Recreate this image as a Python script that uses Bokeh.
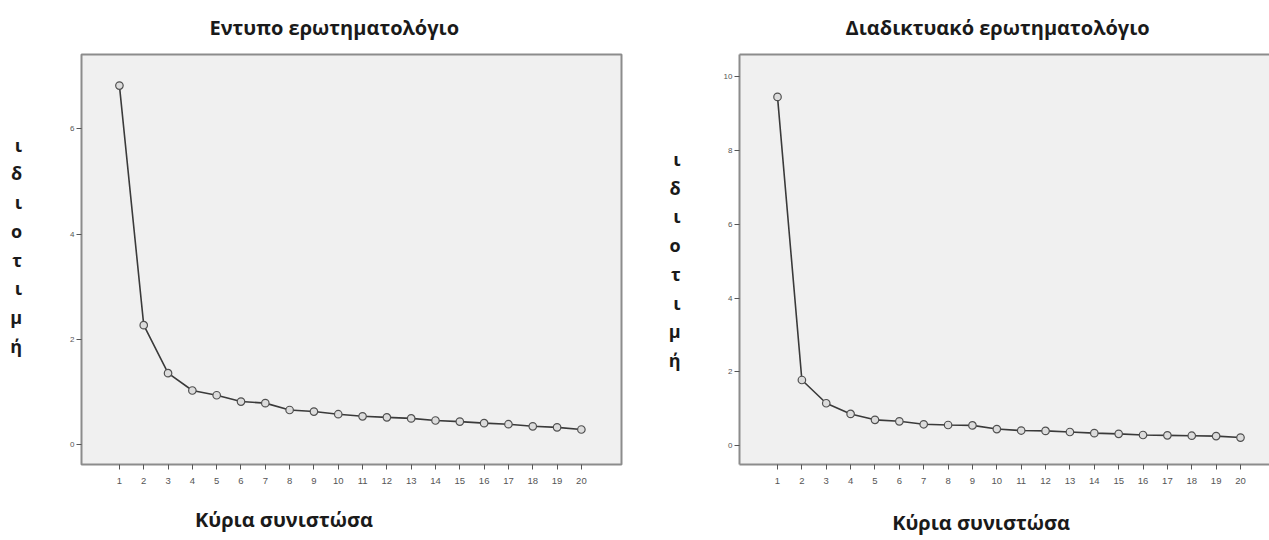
from bokeh.plotting import figure
from bokeh.layouts import row
from bokeh.models import LinearAxis, FixedTicker, Range1d, Title
from bokeh.embed import file_html
from bokeh.resources import INLINE

# ---------------- data ----------------
components = list(range(1, 21))
eigen_print = [6.82, 2.27, 1.36, 1.03, 0.94, 0.82, 0.79, 0.66, 0.63, 0.58,
               0.54, 0.52, 0.50, 0.46, 0.44, 0.41, 0.39, 0.35, 0.33, 0.29]
eigen_online = [9.45, 1.78, 1.15, 0.86, 0.70, 0.66, 0.58, 0.56, 0.55, 0.45,
                0.41, 0.40, 0.37, 0.34, 0.32, 0.29, 0.28, 0.27, 0.26, 0.22]
x_ticks = list(range(1, 21))
y_ticks_print = [0, 2, 4, 6]
y_ticks_online = [0, 2, 4, 6, 8, 10]
title_print = "Εντυπο ερωτηματολόγιο"
title_online = "Διαδικτυακό ερωτηματολόγιο"
x_label = "Κύρια συνιστώσα"
y_label_letters = ["ι", "δ", "ι", "ο", "τ", "ι", "μ", "ή"]

FONT = "Open Sans"
TICK_FONT = "Liberation Sans"
FRAME_COL = "#8c8c8c"
TEXT_COL = "#1a1a1a"
NBSP = "\u00a0"


def make_panel(values, yticks, title, width, height, bl, br, bt, bb, xr, yr,
               title_offset, title_standoff, xlabel_pad, xlabel_standoff,
               ylab_standoff, ylab_extra_lines, open_right):
    p = figure(width=width, height=height, output_backend="svg",
               toolbar_location=None, x_range=Range1d(*xr), y_range=Range1d(*yr),
               min_border_left=bl, min_border_right=br,
               min_border_top=bt, min_border_bottom=bb)
    p.background_fill_color = "#f0f0f0"
    p.border_fill_color = "white"
    p.grid.visible = False

    for ax in (p.xaxis[0], p.yaxis[0]):
        ax.major_tick_out = 5
        ax.major_tick_in = 0
        ax.minor_tick_line_color = None
        ax.major_tick_line_color = "#555555"
        ax.major_tick_line_width = 1
        ax.major_label_text_color = "#555555"
        ax.major_label_text_font = TICK_FONT
    p.xaxis.ticker = FixedTicker(ticks=x_ticks)
    p.yaxis.ticker = FixedTicker(ticks=yticks)
    p.xaxis.major_label_text_font_size = "9.5px"
    p.yaxis.major_label_text_font_size = "8px"
    p.xaxis.major_label_standoff = 8
    p.yaxis.major_label_standoff = 2

    # x-axis label (padded on the right so that it sits left of the frame centre)
    p.xaxis.axis_label = x_label + NBSP * xlabel_pad
    p.xaxis.axis_label_text_font = FONT
    p.xaxis.axis_label_text_font_size = "20px"
    p.xaxis.axis_label_text_font_style = "bold"
    p.xaxis.axis_label_text_color = TEXT_COL
    p.xaxis.axis_label_standoff = xlabel_standoff

    # stacked (upright) y-axis label
    p.yaxis.axis_label = "\n".join(y_label_letters) + "\n" * ylab_extra_lines
    p.yaxis.axis_label_orientation = "horizontal"
    p.yaxis.axis_label_text_font = FONT
    p.yaxis.axis_label_text_font_size = "18px"
    p.yaxis.axis_label_text_font_style = "bold"
    p.yaxis.axis_label_text_color = TEXT_COL
    p.yaxis.axis_label_text_line_height = 1.195
    p.yaxis.axis_label_standoff = ylab_standoff
    p.yaxis.axis_label_text_align = "center"

    if open_right:
        p.outline_line_color = None
        p.xaxis.axis_line_color = FRAME_COL
        p.yaxis.axis_line_color = FRAME_COL
        p.xaxis.axis_line_width = 2
        p.yaxis.axis_line_width = 2
        top = LinearAxis(ticker=FixedTicker(ticks=[]), axis_line_color=FRAME_COL,
                         axis_line_width=2, major_label_text_font_size="0px",
                         major_tick_line_color=None, minor_tick_line_color=None)
        p.add_layout(top, "above")
    else:
        p.outline_line_color = FRAME_COL
        p.outline_line_width = 2
        p.xaxis.axis_line_color = None
        p.yaxis.axis_line_color = None

    p.line(components, values, line_color="#3a3a3a", line_width=1.6)
    p.scatter(components, values, marker="circle", size=7.5,
              line_color="#505050", line_width=1.2, fill_color="#dcdcdc")

    p.add_layout(Title(text=title, align="left", offset=title_offset,
                       standoff=title_standoff, vertical_align="top",
                       text_font=FONT, text_font_size="20px",
                       text_font_style="bold", text_color=TEXT_COL), "above")
    return p


p1 = make_panel(eigen_print, y_ticks_print, title_print, 640, 540,
                81, 19, 53, 72, (-0.56, 21.65), (-0.375, 7.41),
                128, 24, 26, 19, 45, 1, False)
p2 = make_panel(eigen_online, y_ticks_online, title_online, 629, 540,
                99, 0, 54, 76, (-0.56, 21.19), (-0.51, 10.6),
                106, 24, 9, 22, 40, 0, True)

layout = row(p1, p2, spacing=0)
open("out.html", "w").write(file_html(layout, INLINE))
